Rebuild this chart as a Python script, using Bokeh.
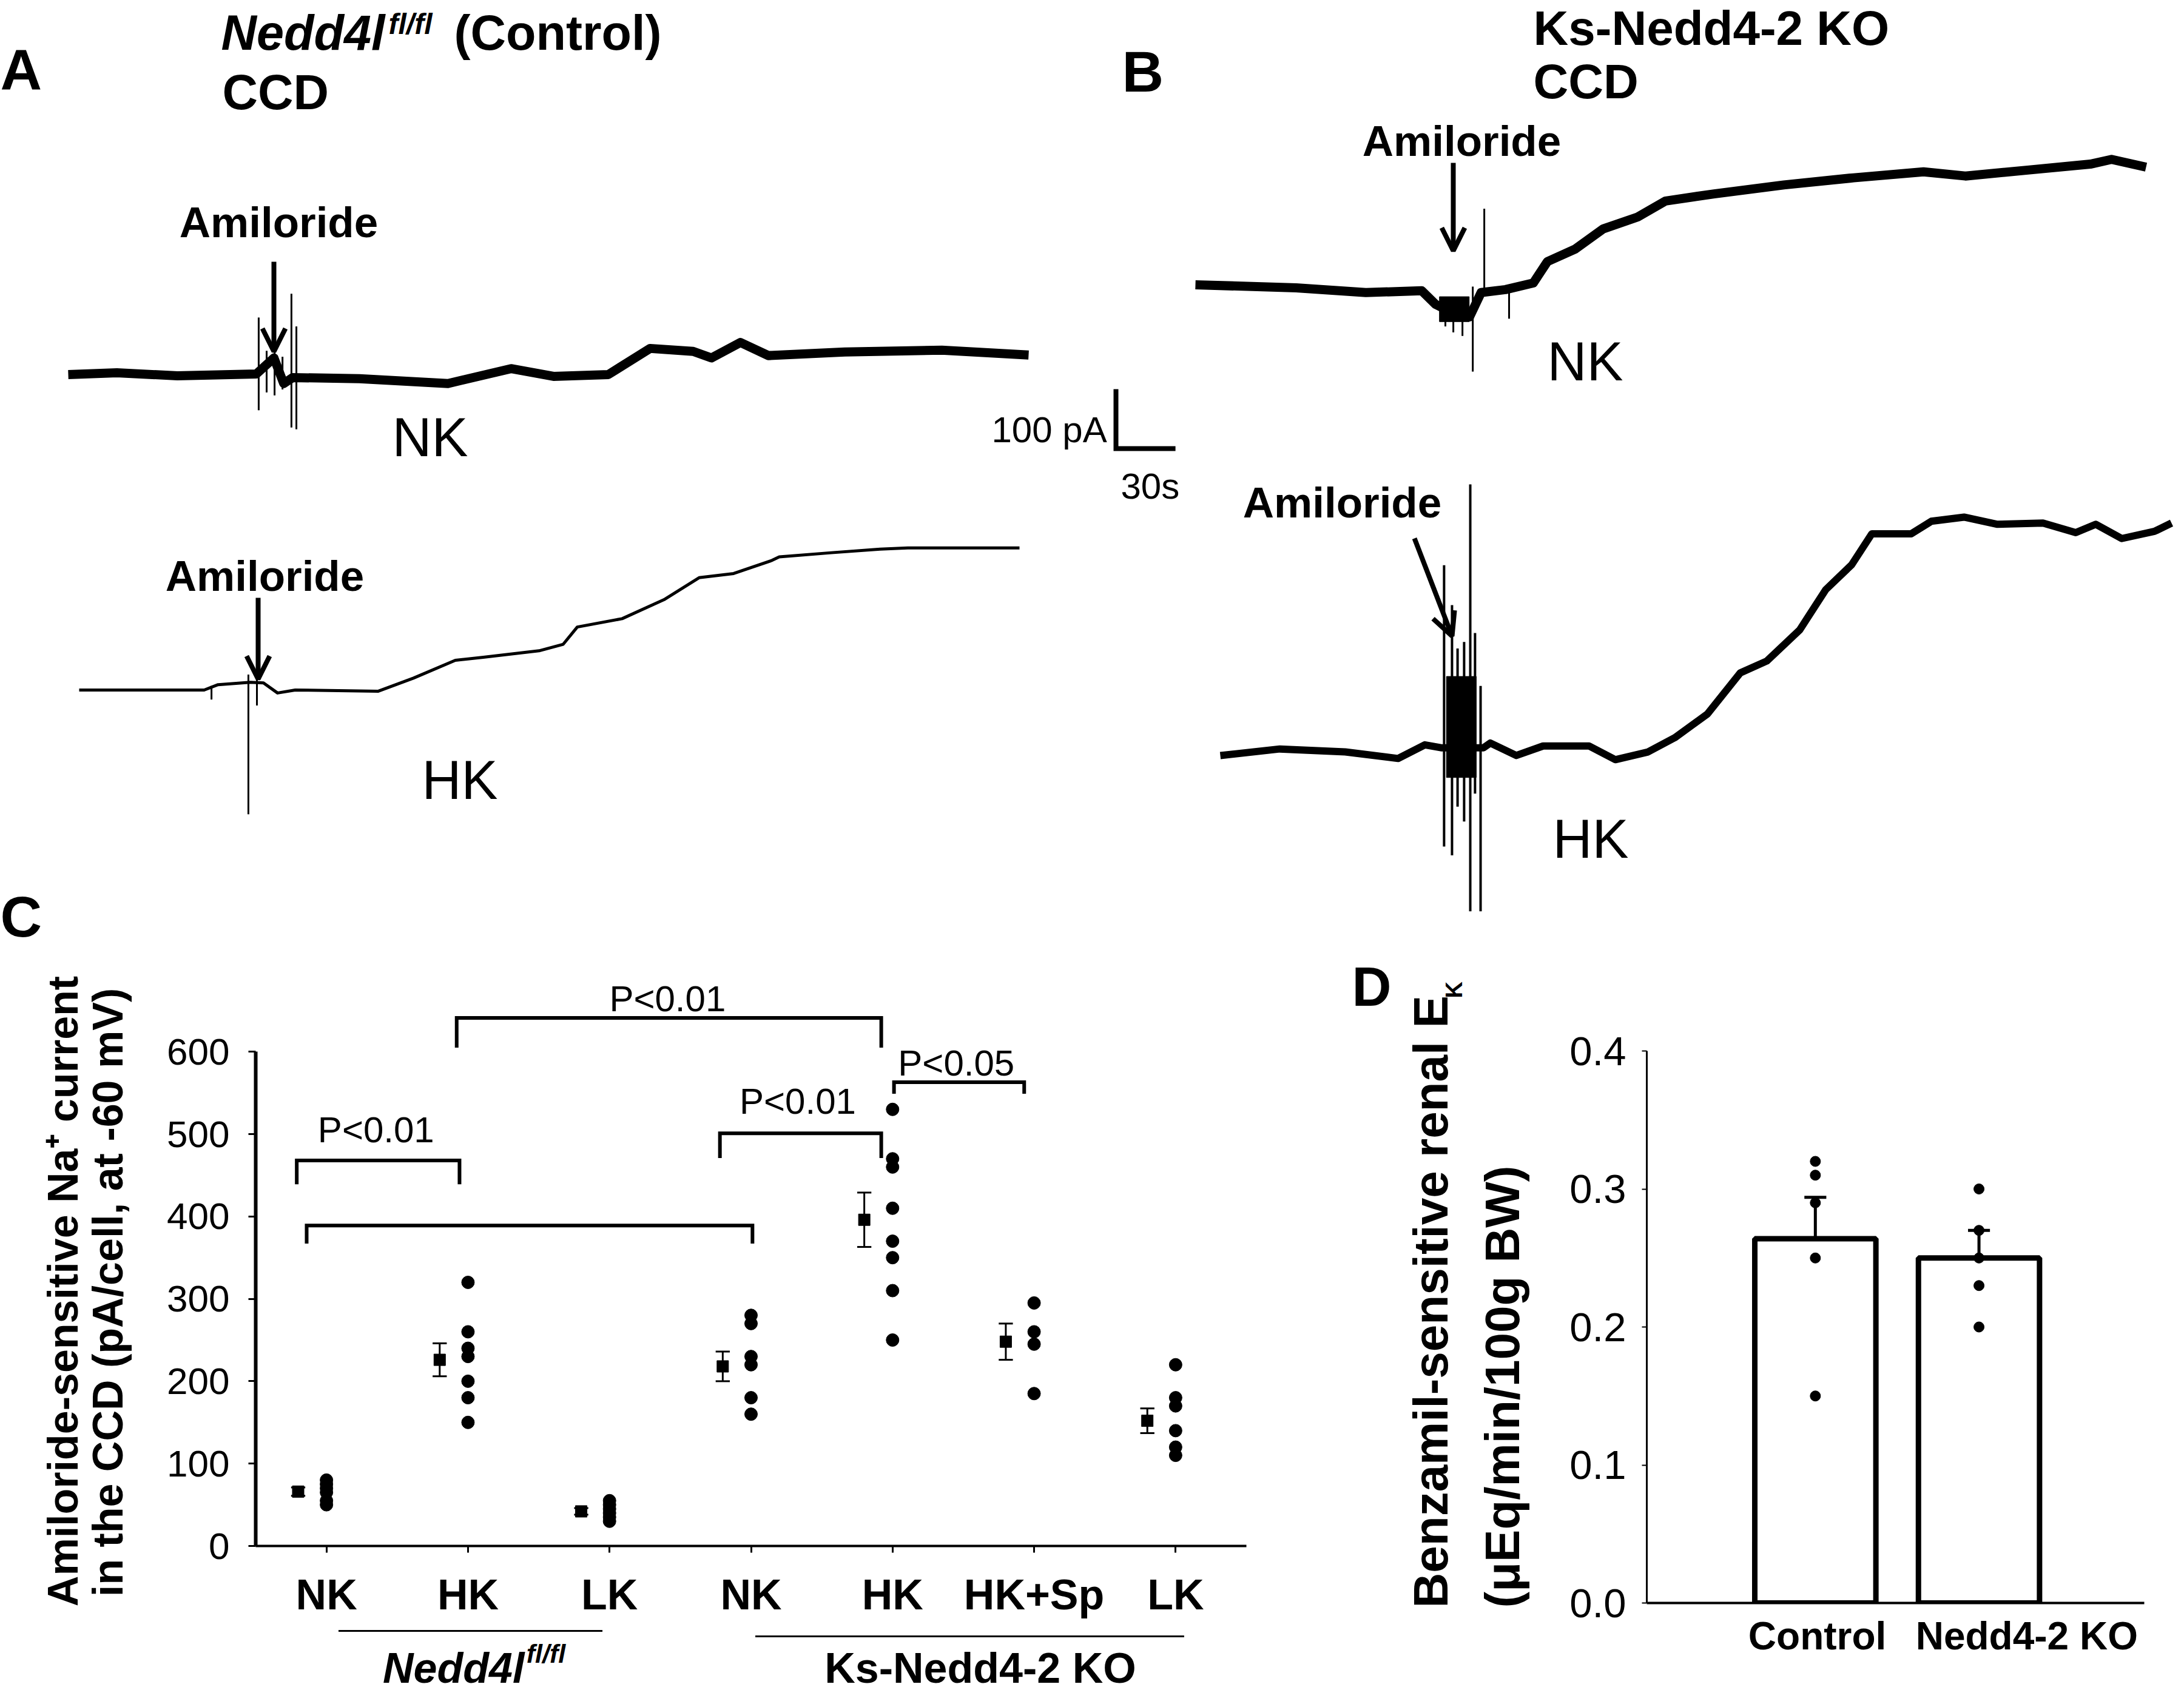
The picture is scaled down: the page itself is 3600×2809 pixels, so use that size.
import math
from bokeh.plotting import figure
from bokeh.layouts import row, column
from bokeh.models import (Range1d, FixedTicker, Arrow, OpenHead, NumeralTickFormatter)
from bokeh.core.properties import value
from bokeh.embed import file_html
from bokeh.resources import INLINE

FONT = "Liberation Sans"

# ============================ DATA ============================
# Panels A/B: whole-cell current traces (time in s, current in pA relative to baseline)
a_nk_time = [0, 24.5, 55.0, 94.8, 103.7, 108.6, 113.1, 146.8, 191.4, 223.2, 244.6, 272.2,
             293.3, 315.0, 324.2, 338.8, 352.9, 391.4, 440.4, 484.1]
a_nk_curr = [0, 3, -2, 1, 28, -15, -5, -7, -15, 10, -3, 0, 44, 39, 28, 54, 32, 38, 41, 33]
a_nk_spike_time = [96.0, 100.0, 104.0, 108.0, 112.5, 115.0]
a_nk_spike_hi = [96, 40, 45, 30, 136, 81]
a_nk_spike_lo = [-60, -30, -35, -25, -89, -92]

a_hk_time = [0, 63.0, 70.0, 86.2, 92.9, 100.0, 108.9, 150.8, 168.5, 189.6, 203.7, 231.8,
             244.0, 251.1, 273.7, 294.8, 312.5, 329.9, 349.2, 352.9, 379.2, 403.7, 417.7, 474.0]
a_hk_curr = [0, 0, 9, 13, 12, -5, 0, -2, 20, 50, 55, 66, 77, 106, 120, 152, 189, 196, 218,
             224, 231, 237, 239, 239]
a_hk_spike_time = [66.7, 85.3, 89.6]
a_hk_spike_hi = [7, 26, 30]
a_hk_spike_lo = [-16, -209, -26]

b_nk_time = [0, 50.8, 85.9, 114.1, 121.1, 131.5, 138.2, 144.0, 156.3, 170.3, 177.4, 191.4,
             205.5, 222.9, 237.0, 261.5, 296.6, 331.8, 367.0, 388.1, 419.6, 451.1, 461.8, 479.2]
b_nk_curr = [0, -5, -13, -10, -33, -50, -54, -13, -8, 3, 39, 60, 94, 114, 141, 153, 168, 180,
             190, 183, 193, 203, 211, 198]
b_nk_spike_time = [126.0, 130.0, 134.6, 139.8, 145.6, 158.1]
b_nk_spike_hi = [-20, -25, -30, -3, 128, -3]
b_nk_spike_lo = [-70, -80, -86, -146, -13, -57]
b_nk_band = (123, 138, -62, -20)       # t0, t1, I_low, I_high

b_hk_time = [0, 30.0, 63.0, 89.6, 103.1, 111.3, 132.7, 136.1, 149.2, 162.7, 185.9, 199.1,
             215.6, 229.1, 245.6, 262.1, 275.5, 292.0, 305.2, 318.3, 328.4, 348.3, 358.4,
             374.9, 391.4, 414.7, 431.2, 441.3, 454.4, 470.9, 479.5]
b_hk_curr = [-3, 8, 3, -8, 15, 10, 10, 18, -3, 13, 13, -10, 3, 27, 67, 136, 156, 208, 276,
             318, 370, 370, 391, 398, 386, 388, 372, 386, 362, 374, 388]
b_hk_spike_time = [112.8, 116.8, 119.6, 122.9, 126.0, 128.4, 131.2]
b_hk_spike_hi = [317, 250, 177, 188, 453, 203, 114]
b_hk_spike_lo = [-156, -171, -89, -114, -265, -67, -265]
b_hk_band = (114, 129, -40, 130)

scale_pA = 100
scale_s = 30

# Panel C: amiloride-sensitive Na+ current (pA/cell)
c_categories = ["NK", "HK", "LK", "NK", "HK", "HK+Sp", "LK"]
c_values = [
    [80, 75, 70, 65, 55, 50],
    [320, 260, 240, 230, 200, 180, 150],
    [55, 50, 45, 40, 35, 30],
    [280, 270, 230, 220, 180, 160],
    [530, 470, 460, 410, 370, 350, 310, 250],
    [295, 260, 245, 185],
    [220, 180, 170, 140, 120, 110],
]
c_means = [66, 226, 42, 218, 396, 248, 152]
c_sems = [5, 20, 4, 18, 33, 22, 15]
c_yticks = [0, 100, 200, 300, 400, 500, 600]
# significance brackets
c_br_left = [0.79, 0.86, 1.92, 3.78, 5.01]
c_br_right = [1.94, 4.01, 4.92, 4.92, 5.93]
c_br_top = [468, 389, 641, 501, 563]
c_br_bottom = [439, 367, 605, 471, 549]
c_p_text = ["P<0.01", "P<0.01", "P<0.01", "P<0.05"]
c_p_x = [1.35, 3.41, 4.33, 5.45]
c_p_y = [505, 664, 540, 586]
c_group_names = ["Nedd4l", "Ks-Nedd4-2 KO"]
c_group_span = [(1.085, 2.95), (4.03, 7.06)]

# Panel D: benzamil-sensitive renal EK
d_groups = ["Control", "Nedd4-2 KO"]
d_means = [0.264, 0.25]
d_sems = [0.03, 0.02]
d_points = [[0.32, 0.31, 0.29, 0.25, 0.15], [0.30, 0.27, 0.25, 0.23, 0.20]]
d_yticks = [0.0, 0.1, 0.2, 0.3, 0.4]

# ============================ LAYOUT ============================
PX_PER_S = 3.27
PX_PER_PA = 0.98
TOP_H = 1572
TOP_BOTTOM = 8 + TOP_H          # page y of bottom of the top row
A_LEFT, A_W = 8, 1954
B_LEFT, B_W = 8 + A_W, 1630
BOT_BOTTOM = 2801
BOT_H = BOT_BOTTOM - TOP_BOTTOM
CY_LEFT, CY_W = 8, 232
C_W = 1910
DY_LEFT, DY_W = 2150, 410
D_W = 1032
C_MAIN_H = 2686 - TOP_BOTTOM
C_GRP_H = BOT_H - C_MAIN_H


def no_align(p):
    if "frame_align" in p.properties():
        p.frame_align = False
    p.outline_line_color = None
    p.background_fill_color = "white"
    p.border_fill_color = "white"


def pos(left, X, Y):
    """page pixel position -> trace-figure data coords (s, pA)"""
    return (X - left) / PX_PER_S, (TOP_BOTTOM - Y) / PX_PER_PA


def bare_fig(width, height, xr, yr):
    p = figure(width=width, height=height, x_range=xr, y_range=yr,
               x_axis_type=None, y_axis_type=None, output_backend="svg",
               toolbar_location=None, min_border=0)
    no_align(p)
    return p


def txt(p, x, y, s, size, style="normal", align="left", baseline="middle", angle=0.0):
    p.text(x=[x], y=[y], text=[s], angle=angle, text_font=value(FONT),
           text_font_size=f"{size}px", text_font_style=style, text_align=align,
           text_baseline=baseline, text_color="black")


def place_text(p, left, X, Y, s, size, style="normal", align="left"):
    x, y = pos(left, X, Y)
    txt(p, x, y, s, size, style, align)


def draw_trace(p, left, start, t, cur, lw):
    t0, i0 = pos(left, *start)
    p.line([t0 + v for v in t], [i0 + v for v in cur], line_width=lw,
           line_color="black", line_join="round")
    return t0, i0


def draw_spikes(p, t0, i0, st, hi, lo, lw=3):
    p.segment(x0=[t0 + v for v in st], y0=[i0 + v for v in lo],
              x1=[t0 + v for v in st], y1=[i0 + v for v in hi],
              line_width=lw, line_color="black")


def draw_band(p, t0, i0, band):
    p.quad(left=[t0 + band[0]], right=[t0 + band[1]],
           bottom=[i0 + band[2]], top=[i0 + band[3]], color="black")


def arrow(p, left, X0, Y0, X1, Y1):
    xs, ys = pos(left, X0, Y0)
    xe, ye = pos(left, X1, Y1)
    p.add_layout(Arrow(x_start=xs, y_start=ys, x_end=xe, y_end=ye, line_width=8,
                       line_color="black",
                       end=OpenHead(size=38, line_width=8, line_color="black")))


def style_axis(ax):
    ax.axis_line_color = "black"
    ax.major_tick_line_color = "black"
    ax.major_label_text_color = "black"
    ax.major_label_text_font = FONT
    ax.minor_tick_line_color = None


# ---------------- Panel A ----------------
pA = bare_fig(A_W, TOP_H, Range1d(0, A_W / PX_PER_S), Range1d(0, TOP_H / PX_PER_PA))
t0, i0 = draw_trace(pA, A_LEFT, (120, 625), a_nk_time, a_nk_curr, 15)
draw_spikes(pA, t0, i0, a_nk_spike_time, a_nk_spike_hi, a_nk_spike_lo, 3)
t0, i0 = draw_trace(pA, A_LEFT, (138, 1145), a_hk_time, a_hk_curr, 5)
draw_spikes(pA, t0, i0, a_hk_spike_time, a_hk_spike_hi, a_hk_spike_lo, 3)

place_text(pA, A_LEFT, 8, 122, "A", 95, "bold")
place_text(pA, A_LEFT, 1857, 125, "B", 95, "bold")
place_text(pA, A_LEFT, 8, 1518, "C", 95, "bold")
place_text(pA, A_LEFT, 372, 61, "Nedd4l", 81, "bold italic")
place_text(pA, A_LEFT, 648, 47, "fl/fl", 48, "bold italic")
place_text(pA, A_LEFT, 756, 61, "(Control)", 81, "bold")
place_text(pA, A_LEFT, 374, 159, "CCD", 81, "bold")
place_text(pA, A_LEFT, 467, 374, "Amiloride", 71, "bold", "center")
place_text(pA, A_LEFT, 444, 957, "Amiloride", 71, "bold", "center")
place_text(pA, A_LEFT, 654, 728, "NK", 90)
place_text(pA, A_LEFT, 703, 1293, "HK", 90)
place_text(pA, A_LEFT, 1642, 716, "100 pA", 60)
place_text(pA, A_LEFT, 1855, 809, "30s", 60)
arrow(pA, A_LEFT, 459, 439, 459, 587)
arrow(pA, A_LEFT, 433, 993, 433, 1127)
cx, cy = pos(A_LEFT, 1847, 747)
pA.line([cx, cx, cx + scale_s], [cy + scale_pA, cy, cy], line_width=8,
        line_color="black", line_join="miter")

# ---------------- Panel B ----------------
pB = bare_fig(B_W, TOP_H, Range1d(0, B_W / PX_PER_S), Range1d(0, TOP_H / PX_PER_PA))
t0, i0 = draw_trace(pB, B_LEFT, (1978, 477), b_nk_time, b_nk_curr, 15)
draw_spikes(pB, t0, i0, b_nk_spike_time, b_nk_spike_hi, b_nk_spike_lo, 3)
draw_band(pB, t0, i0, b_nk_band)
t0, i0 = draw_trace(pB, B_LEFT, (2019, 1250), b_hk_time, b_hk_curr, 12)
draw_spikes(pB, t0, i0, b_hk_spike_time, b_hk_spike_hi, b_hk_spike_lo, 4)
draw_band(pB, t0, i0, b_hk_band)

place_text(pB, B_LEFT, 2535, 54, "Ks-Nedd4-2 KO", 80, "bold")
place_text(pB, B_LEFT, 2535, 142, "CCD", 80, "bold")
place_text(pB, B_LEFT, 2417, 240, "Amiloride", 71, "bold", "center")
place_text(pB, B_LEFT, 2220, 836, "Amiloride", 71, "bold", "center")
place_text(pB, B_LEFT, 2558, 603, "NK", 90)
place_text(pB, B_LEFT, 2567, 1390, "HK", 90)
arrow(pB, B_LEFT, 2403, 276, 2403, 421)
arrow(pB, B_LEFT, 2339, 895, 2401, 1056)

# ---------------- Panel C: y-axis title ----------------
pCy = bare_fig(CY_W, BOT_H, Range1d(CY_LEFT, CY_LEFT + CY_W), Range1d(0, BOT_H))
txt(pCy, 111, BOT_BOTTOM - 2136, "Amiloride-sensitive Na\u207a current", 70, "bold",
    "center", "middle", math.pi / 2)
txt(pCy, 185, BOT_BOTTOM - 2138, "in the CCD (pA/cell, at -60 mV)", 70, "bold",
    "center", "middle", math.pi / 2)

# ---------------- Panel C: main plot ----------------
pC = figure(width=C_W, height=C_MAIN_H, x_range=Range1d(0.5, 7.5), y_range=Range1d(0, 700.3),
            output_backend="svg", toolbar_location=None,
            min_border_left=189, min_border_right=88, min_border_top=1605 - TOP_BOTTOM,
            min_border_bottom=130)
no_align(pC)
pC.grid.visible = False

MEAN_OFFSET = -0.2
dot_x, dot_y = [], []
for gi, vals in enumerate(c_values):
    for v in vals:
        dot_x.append(gi + 1)
        dot_y.append(v)
pC.scatter(dot_x, dot_y, marker="circle", size=21, color="black")

mx = [i + 1 + MEAN_OFFSET for i in range(len(c_means))]
lo = [m - e for m, e in zip(c_means, c_sems)]
hi = [m + e for m, e in zip(c_means, c_sems)]
CAP = 0.05
pC.segment(x0=mx, y0=lo, x1=mx, y1=hi, line_width=3, line_color="black")
pC.segment(x0=[x - CAP for x in mx], y0=hi, x1=[x + CAP for x in mx], y1=hi,
           line_width=3, line_color="black")
pC.segment(x0=[x - CAP for x in mx], y0=lo, x1=[x + CAP for x in mx], y1=lo,
           line_width=3, line_color="black")
pC.scatter(mx, c_means, marker="square", size=19, color="black")

br_xs = [[l, l, r, r] for l, r in zip(c_br_left, c_br_right)]
br_ys = [[b, t, t, b] for t, b in zip(c_br_top, c_br_bottom)]
pC.multi_line(br_xs, br_ys, line_width=6, line_color="black", line_join="miter")
pC.text(x=c_p_x, y=c_p_y, text=c_p_text, text_font=value(FONT), text_font_size="60px",
        text_align="center", text_baseline="middle", text_color="black")

ya = pC.yaxis[0]
style_axis(ya)
ya.ticker = FixedTicker(ticks=c_yticks)
ya.bounds = (0, 600)
ya.axis_line_width = 6
ya.major_tick_out = 12
ya.major_tick_in = 0
ya.major_tick_line_width = 3
ya.major_label_text_font_size = "62px"
ya.major_label_standoff = 31

xa = pC.xaxis[0]
style_axis(xa)
xa.ticker = FixedTicker(ticks=list(range(1, len(c_categories) + 1)))
xa.major_label_overrides = {i + 1: c for i, c in enumerate(c_categories)}
xa.axis_line_width = 4
xa.major_tick_out = 11
xa.major_tick_in = 0
xa.major_tick_line_width = 3
xa.major_label_text_font_size = "70px"
xa.major_label_text_font_style = "bold"
xa.major_label_standoff = 30

# ---------------- Panel C: group labels below the axis ----------------
pCg = figure(width=C_W, height=C_GRP_H, x_range=pC.x_range, y_range=Range1d(-180.4, -95.7),
             x_axis_type=None, y_axis_type=None, output_backend="svg",
             toolbar_location=None, min_border_left=189, min_border_right=88,
             min_border_top=0, min_border_bottom=0)
no_align(pCg)
pCg.segment(x0=[s[0] for s in c_group_span], y0=[-103.1, -109.7],
            x1=[s[1] for s in c_group_span], y1=[-103.1, -109.7],
            line_width=3, line_color="black")
txt(pCg, 1.398, -148.5, c_group_names[0], 70, "bold italic")
txt(pCg, 2.413, -130.5, "fl/fl", 43, "bold italic")
txt(pCg, 5.62, -148.5, c_group_names[1], 70, "bold", "center")

# ---------------- Panel D: label + y-axis title ----------------
pDy = bare_fig(DY_W, BOT_H, Range1d(DY_LEFT, DY_LEFT + DY_W), Range1d(0, BOT_H))
txt(pDy, 2236, BOT_BOTTOM - 1634, "D", 90, "bold")
txt(pDy, 2366, BOT_BOTTOM - 2658, "Benzamil-sensitive renal E", 80, "bold",
    "left", "middle", math.pi / 2)
txt(pDy, 2404, BOT_BOTTOM - 1653, "K", 38, "bold", "left", "middle", math.pi / 2)
txt(pDy, 2484, BOT_BOTTOM - 2658, "(\u03bcEq/min/100g BW)", 80, "bold",
    "left", "middle", math.pi / 2)

# ---------------- Panel D: bars ----------------
pD = figure(width=D_W, height=BOT_H, x_range=Range1d(-0.03, 3.01), y_range=Range1d(0, 0.4),
            output_backend="svg", toolbar_location=None,
            min_border_left=162, min_border_right=50, min_border_top=1740 - TOP_BOTTOM,
            min_border_bottom=151)
no_align(pD)
pD.grid.visible = False

d_x = [1, 2]
pD.vbar(x=d_x, top=d_means, bottom=0, width=0.74, fill_color="white",
        line_color="black", line_width=9)
d_hi = [m + e for m, e in zip(d_means, d_sems)]
pD.segment(x0=d_x, y0=d_means, x1=d_x, y1=d_hi, line_width=5, line_color="black")
DCAP = 0.067
pD.segment(x0=[x - DCAP for x in d_x], y0=d_hi, x1=[x + DCAP for x in d_x], y1=d_hi,
           line_width=5, line_color="black")
px, py = [], []
for gi, pts in enumerate(d_points):
    for v in pts:
        px.append(d_x[gi])
        py.append(v)
pD.scatter(px, py, marker="circle", size=17, color="black")

dya = pD.yaxis[0]
style_axis(dya)
dya.ticker = FixedTicker(ticks=d_yticks)
dya.formatter = NumeralTickFormatter(format="0.0")
dya.axis_line_width = 3
dya.major_tick_out = 8
dya.major_tick_in = 0
dya.major_tick_line_width = 2
dya.major_label_text_font_size = "67px"
dya.major_label_standoff = 26

dxa = pD.xaxis[0]
style_axis(dxa)
D_LABEL_X = [1.012, 2.292]
dxa.ticker = FixedTicker(ticks=D_LABEL_X)
dxa.major_label_overrides = {x: g for x, g in zip(D_LABEL_X, d_groups)}
dxa.axis_line_width = 4
dxa.major_tick_line_color = None
dxa.major_label_text_font_size = "64px"
dxa.major_label_text_font_style = "bold"
dxa.major_label_standoff = 12

layout = column(row(pA, pB), row(pCy, column(pC, pCg), pDy, pD))
open("out.html", "w").write(file_html(layout, INLINE))
